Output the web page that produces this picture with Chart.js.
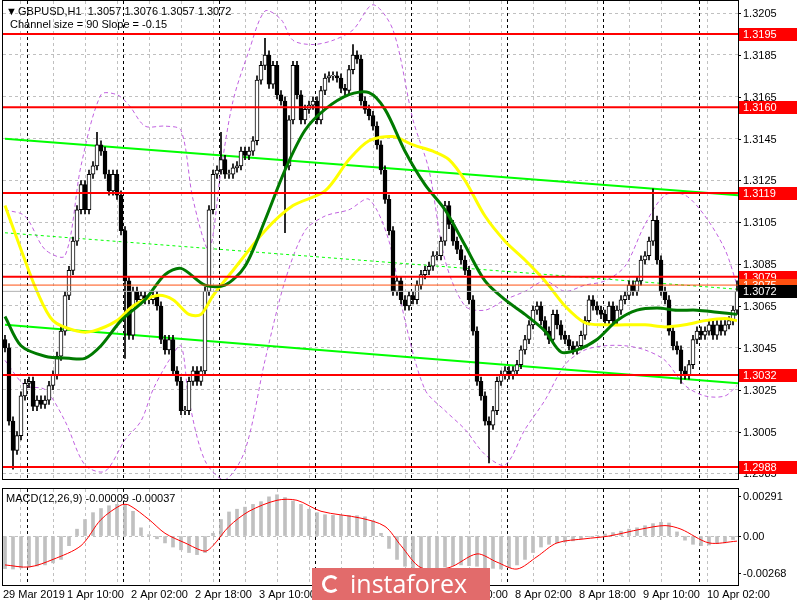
<!DOCTYPE html>
<html>
<head>
<meta charset="utf-8">
<script src="https://cdn.jsdelivr.net/npm/chart.js@4/dist/chart.umd.min.js"></script>
<style>
  body { margin:0; background:#fff; width:800px; height:600px; overflow:hidden; position:relative; font-family:"Liberation Sans",sans-serif; }
  #mainWrap { position:absolute; left:0; top:0; width:800px; height:481px; }
  #macdWrap { position:absolute; left:0; top:482px; width:800px; height:118px; }
  #logo { position:absolute; left:312px; top:568px; width:178px; height:32px; background:#e26b6b;
          color:#fff; font-family:"Open Sans",sans-serif; font-size:25px; line-height:31px; text-align:left; box-sizing:border-box; padding-left:38px; }
  #logo .ic { position:absolute; left:10px; top:7px; width:18px; height:18px; border:3px solid #fff; border-radius:50%; border-right-color:transparent; box-sizing:border-box; }
</style>
</head>
<body>
<div id="mainWrap"><canvas id="mainChart"></canvas></div>
<div id="macdWrap"><canvas id="macdChart"></canvas></div>
<div id="logo"><span class="ic"></span>instaforex</div>
<script>
// closes in pips (1.3045 -> 3045), one per H1 candle
const closes = [
  3045,3010,2996,3003,3022,3028,3029,3017,3020,3018,3020,3027,3032,3041,3053,3070,3082,3096,3111,3123,
  3111,3128,3132,3142,3139,3128,3120,3128,3118,3101,3077,3051,3072,3068,3070,3068,3068,3070,3065,3049,
  3044,3049,3034,3029,3015,3015,3029,3034,3029,3034,3072,3111,3128,3130,3135,3128,3128,3131,3132,3139,
  3137,3139,3144,3173,3180,3185,3171,3180,3166,3163,3132,3154,3180,3166,3154,3159,3161,3163,3154,3168,
  3174,3175,3175,3174,3169,3168,3178,3185,3183,3163,3159,3156,3151,3142,3130,3116,3101,3072,3077,3068,
  3065,3070,3068,3075,3080,3082,3084,3089,3089,3096,3113,3104,3096,3092,3087,3082,3068,3053,3029,3022,
  3010,3008,3015,3029,3032,3034,3032,3034,3037,3044,3049,3056,3063,3065,3058,3053,3049,3061,3056,3051,
  3049,3046,3044,3046,3051,3058,3068,3065,3063,3061,3058,3065,3058,3063,3068,3070,3075,3072,3077,3087,
  3089,3096,3106,3087,3072,3068,3053,3046,3044,3034,3032,3037,3049,3053,3051,3053,3056,3051,3056,3053,
  3056,3058,3063,3072
];
const firstOpen = 3049;
const spikeHigh = {23:3148, 54:3148, 65:3193, 87:3190, 162:3121, 183:3077};
const spikeLow = {2:2987, 30:3040, 70:3100, 121:2990, 169:3028};

// indicator lines: [candle index, price pips]
const greenMA = [[0,3060],[4,3046],[10,3041],[16,3040],[20,3040],[24,3046],[29,3058],[35,3068],[40,3080],[44,3083],[50,3075],[55,3075],[60,3084],[65,3106],[70,3130],[75,3149],[80,3159],[86,3166],[91,3167],[95,3159],[100,3139],[105,3123],[110,3111],[115,3094],[120,3077],[125,3068],[130,3061],[135,3053],[139,3043],[143,3044],[148,3049],[153,3058],[158,3063],[163,3064],[168,3063],[173,3063],[178,3062],[183,3061]];
const yellowMA = [[0,3113],[4,3092],[8,3072],[12,3058],[18,3053],[22,3053],[28,3058],[32,3065],[38,3070],[42,3068],[46,3061],[49,3061],[52,3070],[57,3082],[65,3101],[72,3113],[80,3120],[86,3135],[91,3144],[97,3146],[102,3142],[107,3139],[111,3135],[115,3125],[120,3108],[125,3096],[130,3087],[135,3077],[140,3065],[145,3057],[150,3056],[155,3056],[160,3056],[165,3055],[170,3056],[175,3058],[180,3059],[183,3058]];
const bandUpper = [[0,3111],[5,3108],[10,3092],[15,3089],[19,3132],[24,3166],[28,3166],[31,3161],[35,3151],[40,3151],[44,3149],[47,3116],[51,3092],[54,3130],[57,3163],[61,3187],[65,3206],[69,3202],[72,3192],[77,3190],[82,3192],[87,3197],[92,3209],[97,3197],[102,3154],[106,3130],[110,3087],[115,3065],[120,3063],[125,3068],[130,3072],[135,3077],[140,3072],[145,3075],[150,3077],[155,3084],[160,3104],[165,3118],[170,3118],[175,3108],[180,3092],[183,3075]];
const bandLower = [[0,3039],[5,3027],[10,3025],[15,3010],[20,2989],[25,2986],[30,3001],[34,3010],[37,3025],[41,3039],[44,3046],[46,3020],[50,2991],[55,2982],[60,2996],[65,3039],[70,3077],[75,3101],[80,3108],[86,3111],[91,3116],[96,3096],[100,3058],[105,3025],[110,3015],[115,3006],[120,2994],[125,2989],[130,3006],[135,3020],[140,3037],[145,3044],[150,3046],[155,3046],[160,3044],[165,3039],[170,3027],[175,3022],[180,3022],[183,3027]];
const channelUpper = [[0,3145],[190,3117]];
const channelMid = [[0,3100],[190,3072]];
const channelLower = [[0,3056],[190,3027]];

const levels = [3195, 3160, 3119, 3079, 3032, 2988];
const askLevel = 3075;
const lastPrice = 3072;
const priceTicks = [2985,3005,3025,3045,3065,3085,3105,3125,3145,3165,3185,3205];

// MACD histogram, one value every 2 candles (units 1e-5)
const macdHist = [
  -237,-240,-232,-225,-218,-210,-195,-170,-70,50,120,170,200,220,230,225,180,60,10,-20,
  -50,-80,-100,-120,-135,-120,20,120,175,195,210,230,250,285,300,280,255,230,195,170,
  155,150,150,150,148,140,110,20,-90,-170,-220,-235,-240,-240,-235,-225,-215,-210,-215,-220,
  -230,-235,-240,-230,-210,-170,-120,-80,-60,-50,-45,-35,-20,-5,5,15,25,35,50,60,
  75,90,100,95,30,-30,-60,-70,-65,-55,-50,-25
];
const macdSignal = [[0,-210],[6,-225],[12,-170],[19,-70],[24,120],[29,225],[31,225],[36,120],[40,20],[45,-50],[50,-110],[52,-70],[56,70],[61,180],[68,260],[73,260],[79,180],[89,130],[95,70],[99,-70],[104,-230],[111,-230],[118,-130],[123,-190],[128,-240],[133,-150],[138,-50],[145,-20],[151,0],[159,50],[165,76],[169,50],[176,-50],[183,-37]];
const macdTicks = [-268, 0, 291];

const timeLabels = ['29 Mar 2019','1 Apr 10:00','2 Apr 02:00','2 Apr 18:00','3 Apr 10:00','4 Apr 02:00','4 Apr 18:00','5 Apr 10:00','8 Apr 02:00','8 Apr 18:00','9 Apr 10:00','10 Apr 02:00'];

const P = v => v / 10000 + 1;
const pts = arr => arr.map(p => ({x: p[0], y: P(p[1])}));

const bodies = [], wicks = [], bodyFill = [];
closes.forEach((c, i) => {
  const o = i === 0 ? firstOpen : closes[i - 1];
  const hi = spikeHigh[i] !== undefined ? spikeHigh[i] : Math.max(o, c) + 2;
  const lo = spikeLow[i] !== undefined ? spikeLow[i] : Math.min(o, c) - 2;
  bodies.push({x: i, y: [P(Math.min(o, c)), P(Math.max(o, c) + (o === c ? 0.3 : 0))]});
  wicks.push({x: i, y: [P(lo), P(hi)]});
  bodyFill.push(c >= o ? '#ffffff' : '#000000');
});

const TXT = '11px "Liberation Sans"';
const X_MIN = -0.5, X_MAX = 183.25;
const tickFormat = {
  mainChart: v => v.toFixed(4),
  macdChart: v => Math.abs(v) < 1e-9 ? '0.00' : v.toFixed(5)
};

function xScale() {
  return {
    type: 'linear', min: X_MIN, max: X_MAX, offset: false,
    ticks: {display: false, stepSize: 8},
    afterFit: s => { s.height = 0; },
    grid: {color: '#c0c0c0', drawTicks: false},
    border: {display: false, dash: [3, 3]}
  };
}

function yScale(min, max, ticks, zeroOnly) {
  return {
    position: 'right', min: min, max: max,
    afterBuildTicks: s => { s.ticks = ticks.map(v => ({value: v})); },
    afterFit: s => { s.width = 62; s.paddingTop = 0; s.paddingBottom = 0; },
    ticks: {display: false},
    grid: {color: c => zeroOnly && c.tick && c.tick.value !== 0 ? 'rgba(0,0,0,0)' : '#c0c0c0', drawTicks: false},
    border: {display: false, dash: [3, 3]}
  };
}

// frame, day separators, right tick labels
const framePlugin = {
  id: 'frame',
  beforeDatasetsDraw(chart) {
    const {ctx, chartArea: a, scales: {x}} = chart;
    ctx.save();
    ctx.strokeStyle = '#000';
    ctx.lineWidth = 1;
    ctx.setLineDash([3, 3]);
    for (let d = 5.5; d < X_MAX; d += 24) {
      const px = Math.round(x.getPixelForValue(d)) + 0.5;
      ctx.beginPath(); ctx.moveTo(px, a.top); ctx.lineTo(px, a.bottom); ctx.stroke();
    }
    ctx.restore();
  },
  afterDraw(chart) {
    const {ctx, chartArea: a, scales: {y}} = chart;
    const fmt = tickFormat[chart.canvas.id];
    ctx.save();
    ctx.strokeStyle = '#000';
    ctx.lineWidth = 1;
    ctx.strokeRect(a.left - 0.5, a.top - 0.5, a.right - a.left + 1, a.bottom - a.top + 1);
    ctx.fillStyle = '#000';
    ctx.font = TXT;
    ctx.textBaseline = 'middle';
    y.ticks.forEach(t => {
      const py = Math.round(y.getPixelForValue(t.value)) + 0.5;
      ctx.beginPath(); ctx.moveTo(a.right, py); ctx.lineTo(a.right + 3, py); ctx.stroke();
      ctx.fillText(fmt(t.value), a.right + 5, py);
    });
    ctx.restore();
  }
};

const levelPlugin = {
  id: 'levels',
  afterDatasetsDraw(chart) {
    const {ctx, chartArea: a, scales: {y}} = chart;
    ctx.save();
    const hline = (v, col, w) => {
      const py = y.getPixelForValue(P(v));
      ctx.strokeStyle = col; ctx.lineWidth = w;
      ctx.beginPath(); ctx.moveTo(a.left, py); ctx.lineTo(a.right, py); ctx.stroke();
    };
    hline(lastPrice, '#b0b0b0', 1);
    hline(askLevel, '#ff5010', 1);
    levels.forEach(v => hline(v, '#ff0000', 2));
    ctx.restore();
  },
  afterDraw(chart) {
    const {ctx, chartArea: a, scales: {y}} = chart;
    ctx.save();
    ctx.font = TXT;
    ctx.textBaseline = 'middle';
    const box = (v, bg, fg) => {
      const py = Math.round(y.getPixelForValue(P(v)));
      ctx.fillStyle = bg;
      ctx.fillRect(a.right + 1, py - 6, 800 - a.right - 4, 13);
      ctx.fillStyle = fg;
      ctx.fillText(P(v).toFixed(4), a.right + 5, py + 0.5);
    };
    levels.forEach(v => box(v, '#ff0000', '#fff'));
    box(askLevel, '#ff5010', '#fff');
    box(lastPrice, '#000000', '#fff');
    // header text
    ctx.fillStyle = '#000';
    ctx.textBaseline = 'alphabetic';
    ctx.fillText('\u25BC', 6, 15);
    ctx.fillText('GBPUSD,H1  1.3057 1.3076 1.3057 1.3072', 18, 15);
    ctx.fillText('Channel size = 90 Slope = -0.15', 10, 28);
    ctx.restore();
  }
};

const lineDs = (data, color, width, dash, order) => ({
  type: 'line', data: pts(data), borderColor: color, borderWidth: width,
  borderDash: dash || [], pointRadius: 0, fill: false, tension: 0.3, order: order
});

new Chart(document.getElementById('mainChart'), {
  type: 'bar',
  data: {
    datasets: [
      lineDs(bandUpper, '#c060e0', 1, [4, 3], 9),
      lineDs(bandLower, '#c060e0', 1, [4, 3], 9),
      lineDs(channelUpper, '#00ff00', 2, null, 8),
      lineDs(channelMid, '#00ff00', 1, [3, 3], 8),
      lineDs(channelLower, '#00ff00', 2, null, 8),
      {data: wicks, backgroundColor: '#000', borderWidth: 0, barThickness: 1, grouped: false, order: 6},
      {data: bodies, backgroundColor: bodyFill, borderColor: '#000', borderWidth: 1, borderSkipped: false, barThickness: 4, grouped: false, order: 5},
      lineDs(yellowMA, '#ffff00', 3, null, 2),
      lineDs(greenMA, '#007a00', 3, null, 1)
    ]
  },
  options: {
    responsive: true, maintainAspectRatio: false, animation: false,
    layout: {padding: {left: 3, top: 1, bottom: 2, right: 0}},
    plugins: {legend: {display: false}, tooltip: {enabled: false}},
    scales: {
      x: xScale(),
      y: yScale(1.29823, 1.32108, priceTicks.map(P), false)
    }
  },
  plugins: [framePlugin, levelPlugin]
});

const macdPlugin = {
  id: 'macdText',
  afterDraw(chart) {
    const {ctx, chartArea: a, scales: {x}} = chart;
    ctx.save();
    ctx.fillStyle = '#000';
    ctx.font = TXT;
    ctx.fillText('MACD(12,26,9) -0.00009 -0.00037', 6, 20);
    timeLabels.forEach((t, k) => {
      const px = x.getPixelForValue(16 * k);
      ctx.fillText(t, px - 2, a.bottom + 13);
    });
    ctx.restore();
  }
};

new Chart(document.getElementById('macdChart'), {
  type: 'bar',
  data: {
    datasets: [
      {type: 'line', data: macdSignal.map(p => ({x: p[0], y: p[1] / 100000})), borderColor: '#ff0000', borderWidth: 1, pointRadius: 0, tension: 0.3, order: 1},
      {data: macdHist.map((v, k) => ({x: 2 * k, y: v / 100000})), backgroundColor: '#c0c0c0', barThickness: 3, grouped: false, order: 2}
    ]
  },
  options: {
    responsive: true, maintainAspectRatio: false, animation: false,
    layout: {padding: {left: 3, top: 7, bottom: 15, right: 0}},
    plugins: {legend: {display: false}, tooltip: {enabled: false}},
    scales: {
      x: xScale(),
      y: yScale(-0.00356, 0.00342, macdTicks.map(v => v / 100000), true)
    }
  },
  plugins: [framePlugin, macdPlugin]
});
</script>
</body>
</html>
